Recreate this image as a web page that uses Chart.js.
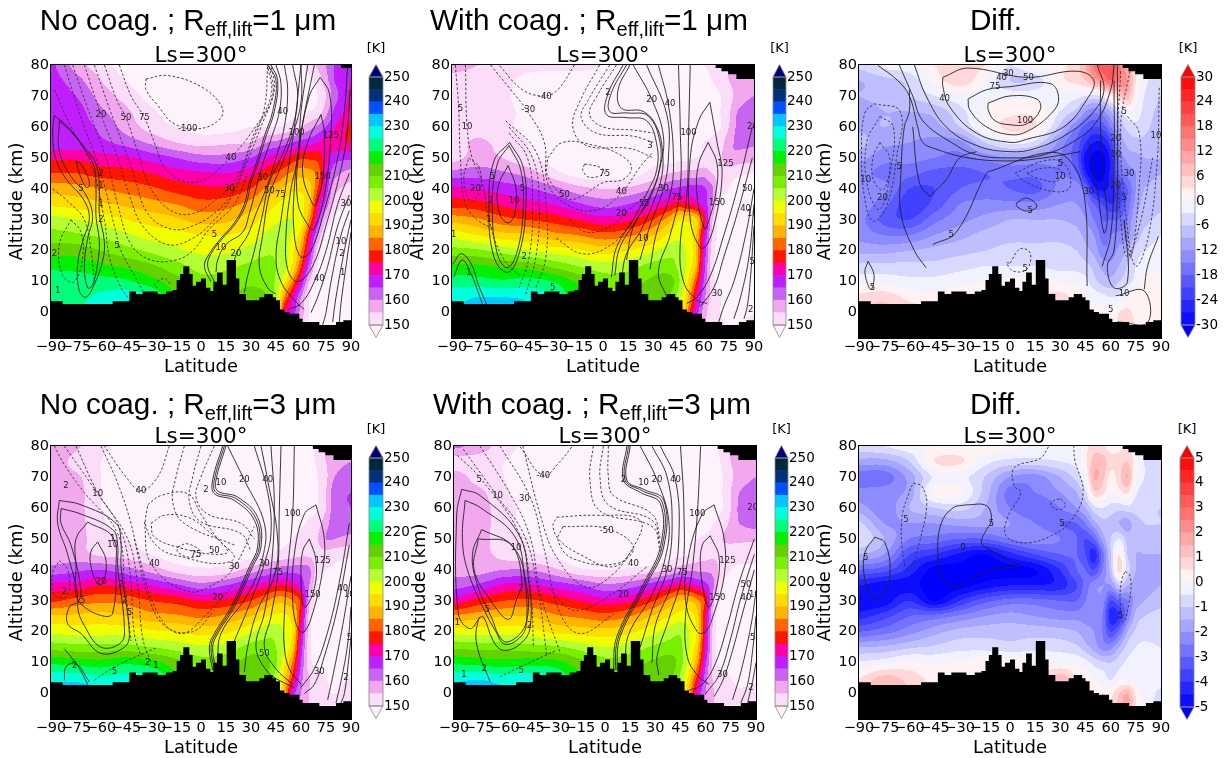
<!DOCTYPE html>
<html>
<head>
<meta charset="utf-8">
<script src="https://cdn.jsdelivr.net/npm/chart.js@4"></script>
<style>
  html, body { margin: 0; padding: 0; background: #fff; width: 1227px; height: 758px; overflow: hidden; }
  canvas { position: absolute; }
  .main { position: absolute; font-family: "Liberation Sans", sans-serif; font-size: 29.7px; color: #000; white-space: nowrap; transform: translateX(-50%); line-height: 34px; }
  .main sub { font-size: 20px; line-height: 0; vertical-align: -6px; }
  .unit { position: absolute; font-family: "DejaVu Sans", sans-serif; font-size: 13px; color: #000; transform: translateX(-50%); }
</style>
</head>
<body>
<script>
// Grid of the filled contours
const lats = [-90, -75, -60, -45, -30, -15, 0, 15, 30, 40, 45, 50, 55, 60, 65, 70, 75, 80, 90];
const alts = [80, 75, 70, 65, 60, 55, 50, 45, 40, 35, 30, 25, 20, 15, 10, 5, 0, -5];
const xTickValues = [-90, -75, -60, -45, -30, -15, 0, 15, 30, 45, 60, 75, 90];
const yTickValues = [0, 10, 20, 30, 40, 50, 60, 70, 80];
const tempTicks = [150, 160, 170, 180, 190, 200, 210, 220, 230, 240, 250];
const diff1Ticks = [-30, -24, -18, -12, -6, 0, 6, 12, 18, 24, 30];
const diff3Ticks = [-5, -4, -3, -2, -1, 0, 1, 2, 3, 4, 5];

// Surface and missing-data steps: lat, altitude
const surface = [-90,3.7, -83,2.8, -53,3.7, -43,6.8, -39,6, -35,6.8, -26,6, -21,6.8, -17,7.3, -14.6,10.5, -12.6,12.5, -10.6,15, -7,12.5, -5,8.7, -3,10, 0,11, 3,8, 5.6,7, 7.4,10, 9.6,13, 13,9, 15.4,17, 21,11, 23,6, 27,4, 35,5, 38,6, 43,5, 45,4, 47.4,1, 50,0.2, 53,-0.4, 59,-2, 61,-3, 71,-4, 81,-3, 85.4,-2.5, 90,-2.5];
const skyMaskSmall = [84,79, 90,79];
const skyMask = [67,79, 70.6,78, 74.6,77, 79.5,75.5, 90,75.5];

// Temperature (K), rows follow alts
const tempNoCoag1 = [
  [166,158,152,148,146,145,145,145,145,146,147,148,148,149,152,156,160,165,168],
  [167,162,155,150,147,145,144,144,144,146,146,147,147,147,149,152,158,165,170],
  [168,165,158,153,148,145,144,144,144,145,146,146,147,147,148,150,155,163,171],
  [168,167,161,156,151,147,146,146,147,147,148,148,148,148,150,152,158,166,172],
  [168,167,164,158,153,150,148,148,150,150,150,151,153,155,158,161,165,170,176],
  [167,167,166,163,159,155,153,154,155,160,161,163,165,167,168,170,172,173,175],
  [174,174,172,171,168,165,162,162,165,170,172,174,177,179,179,178,172,167,166],
  [180,180,178,177,175,172,171,170,173,178,180,183,186,188,187,183,170,162,158],
  [188,187,185,183,181,178,176,176,180,186,188,191,194,194,192,180,168,157,153],
  [194,193,191,189,187,185,182,183,187,192,195,197,198,197,190,174,163,153,150],
  [202,200,198,195,193,191,188,189,193,197,199,200,200,198,185,168,155,149,147],
  [207,206,204,201,198,197,195,195,197,201,202,201,199,192,175,160,149,146,146],
  [213,213,210,207,204,201,199,199,202,204,204,202,196,186,170,153,147,145,145],
  [219,218,216,214,211,207,203,204,206,207,205,202,194,180,163,150,146,145,144],
  [222,223,222,221,217,212,207,207,209,208,204,196,184,170,155,148,146,144,144],
  [224,224,226,228,225,215,210,210,212,210,203,185,172,160,150,147,146,145,145],
  [225,225,227,229,226,216,211,211,213,211,204,175,168,158,150,147,146,145,145],
  [225,226,228,230,226,216,211,211,213,212,205,175,165,155,150,148,146,146,146]
];
const tempCoag1 = [
  [157,155,152,151,151,151,150,149,148,148,148,149,149,150,151,153,155,156,156],
  [153,152,151,149,148,148,148,148,147,147,147,147,147,148,150,152,155,156,157],
  [152,152,151,148,147,146,146,146,146,146,146,147,147,147,148,150,153,157,160],
  [152,152,151,149,147,146,145,145,146,146,146,147,147,147,147,150,154,160,163],
  [152,152,151,149,148,147,146,146,146,146,146,147,147,147,148,150,155,161,164],
  [152,156,153,150,148,147,148,147,147,147,148,149,149,150,151,153,158,161,161],
  [153,157,155,151,148,147,147,146,148,148,149,149,150,151,152,154,159,158,157],
  [162,163,161,158,152,148,147,147,152,155,156,157,157,158,155,153,152,151,150],
  [171,170,168,166,162,157,155,156,160,165,166,167,167,166,161,152,150,148,147],
  [178,177,174,172,170,166,163,165,170,174,177,175,173,168,160,150,148,146,146],
  [188,186,182,180,178,175,172,174,180,188,194,194,192,178,156,148,146,145,145],
  [198,195,192,191,187,185,182,184,190,196,198,197,192,172,155,148,146,145,145],
  [207,206,203,200,198,196,193,195,199,203,203,199,192,170,153,147,145,145,145],
  [216,216,214,213,209,205,202,203,207,207,204,199,190,168,152,147,145,145,145],
  [223,222,221,222,220,214,208,208,211,212,206,196,182,165,152,148,147,146,146],
  [228,230,230,229,225,216,210,210,212,210,203,192,175,162,153,150,148,146,147],
  [230,232,232,231,226,217,211,211,213,212,205,185,170,158,152,150,148,147,150],
  [231,233,233,232,227,218,212,212,214,213,206,180,165,156,152,151,150,151,152]
];
const tempNoCoag3 = [
  [160,156,151,149,147,146,146,146,146,147,147,148,148,149,149,152,156,158,158],
  [159,153,150,147,146,145,145,145,145,146,146,147,147,147,148,151,155,158,160],
  [157,156,150,147,145,145,145,145,145,145,146,146,147,147,147,150,154,160,163],
  [157,157,150,147,145,144,144,145,145,145,146,146,146,147,147,150,155,163,165],
  [157,157,150,147,146,145,145,145,145,145,146,146,146,147,148,150,155,163,165],
  [157,157,151,148,146,145,145,145,145,146,146,147,148,149,151,153,158,163,164],
  [157,157,152,150,147,146,146,146,146,147,148,149,150,152,153,155,160,160,158],
  [157,157,154,153,150,147,147,147,148,150,151,152,153,154,154,153,153,152,151],
  [162,164,165,162,158,153,151,152,157,161,162,163,163,163,161,152,150,149,148],
  [172,172,175,173,170,166,162,165,170,173,175,175,173,168,160,150,148,146,146],
  [179,182,184,183,180,178,175,176,180,185,188,188,185,178,156,148,146,145,145],
  [191,191,192,190,187,186,184,186,190,195,196,196,192,175,153,147,145,145,144],
  [199,198,198,198,196,195,193,194,199,203,203,200,194,172,152,147,145,145,144],
  [208,207,207,207,205,203,201,202,207,207,205,200,191,168,152,147,145,145,144],
  [219,218,217,219,217,212,207,208,212,211,206,196,184,165,152,148,147,146,146],
  [228,228,226,227,226,216,210,210,213,210,203,192,178,162,155,152,150,148,150],
  [232,234,232,230,228,217,211,211,214,212,205,188,168,160,155,153,151,150,152],
  [233,235,233,231,229,218,212,212,215,213,206,185,165,158,155,153,152,152,153]
];
const tempCoag3 = [
  [161,158,152,149,147,146,146,146,146,147,147,148,148,149,149,152,156,157,157],
  [153,152,150,147,146,145,145,145,145,146,146,147,147,147,148,151,155,157,158],
  [157,153,150,147,146,145,145,145,145,145,146,146,146,147,147,150,154,157,160],
  [157,156,151,147,146,145,145,145,145,145,146,146,146,147,147,150,155,160,163],
  [157,157,152,148,146,145,145,145,145,145,146,146,146,147,147,150,155,161,163],
  [157,157,152,148,146,145,145,145,145,146,146,147,147,148,150,153,156,160,162],
  [157,157,152,150,147,146,146,146,146,147,148,149,150,151,153,155,156,156,156],
  [157,157,153,151,149,147,146,146,146,148,149,150,152,153,154,153,152,152,152],
  [158,158,160,160,156,151,150,151,153,156,158,159,159,159,158,152,150,149,149],
  [163,166,171,171,168,165,161,163,168,172,175,173,170,167,160,150,148,146,146],
  [172,177,180,181,178,175,172,174,180,187,190,190,186,178,155,148,146,145,145],
  [186,188,190,190,186,184,182,185,191,195,197,197,192,173,153,147,146,145,145],
  [198,198,198,197,194,193,192,194,199,203,204,200,194,172,152,147,145,145,145],
  [209,208,208,207,206,203,200,202,206,207,206,200,191,170,152,147,145,145,145],
  [219,218,217,218,217,212,207,208,211,212,207,198,186,166,152,148,147,146,146],
  [228,229,227,228,225,216,210,210,213,210,204,193,178,162,154,152,150,148,149],
  [234,236,232,230,227,217,211,211,214,212,205,188,170,160,155,153,152,151,152],
  [235,237,233,231,228,218,212,212,215,213,206,185,165,158,155,153,152,152,153]
];

// Differences (K), rows follow alts
const diff1 = [
  [-5,-2,-1,3,5,3,-3,1,2,5,9,16,20,20,16,9,3,0,-2],
  [-9,-7,-5,1,5,0,-6,-5,2,4,6,10,14,18,15,12,3,-2,-5],
  [-9,-8,-6,-3,-1,-1,-1,-1,-1,-2,-3,-4,-2,2,6,8,1,-3,-6],
  [-10,-9,-9,-8,-4,0,2,2,-3,-7,-12,-14,-13,-9,-4,0,-1,-4,-7],
  [-10,-9,-10,-10,-6,0,4,3,-7,-15,-19,-21,-20,-15,-9,-5,-4,-5,-8],
  [-8,-11,-12,-13,-13,-6,-2,-4,-13,-19,-24,-27,-27,-22,-12,-8,-7,-7,-9],
  [-11,-14,-14,-15,-16,-14,-12,-13,-15,-20,-28,-31,-31,-26,-15,-11,-10,-9,-9],
  [-14,-16,-17,-19,-19,-18,-17,-17,-15,-18,-26,-31,-31,-26,-18,-14,-12,-10,-9],
  [-13,-14,-21,-21,-18,-17,-18,-19,-14,-13,-18,-26,-28,-26,-22,-18,-12,-9,-8],
  [-13,-17,-23,-20,-15,-14,-14,-14,-12,-12,-14,-18,-21,-24,-22,-17,-11,-8,-7],
  [-14,-19,-21,-16,-13,-11,-9,-9,-9,-10,-12,-15,-18,-18,-18,-15,-9,-7,-5],
  [-13,-15,-15,-12,-10,-8,-7,-7,-7,-8,-10,-12,-16,-15,-14,-13,-8,-5,-3],
  [-10,-10,-9,-8,-7,-6,-5,-5,-5,-6,-8,-10,-14,-14,-11,-9,-5,-3,-2],
  [-5,-5,-5,-5,-4,-3,-3,-3,-4,-4,-5,-7,-10,-11,-9,-6,-3,-1,-1],
  [-1,-1,-2,-2,-1,0,1,1,0,-1,-2,-5,-7,-8,-6,-4,-2,1,1],
  [4,5,2,1,2,3,3,3,4,2,0,-1,-2,-3,-2,0,1,2,2],
  [6,7,5,4,3,3,3,3,4,3,1,1,1,1,3,4,2,2,2],
  [6,7,5,4,3,3,3,3,4,3,1,1,1,1,3,5,3,3,3]
];
const diff3 = [
  [-0.7,-0.5,-0.2,0,0.1,0.4,0.2,-0.1,-0.2,-0.2,0.3,0.8,0.6,0.3,0.4,0.5,0.1,-0.5,-0.7],
  [-1.7,-1.7,-1,0.5,0.6,-0.3,-0.7,-0.7,-0.5,-0.3,0.4,1.2,1.3,0.7,0.7,1,0.2,-0.5,-0.7],
  [-2.8,-2.8,-1.8,-0.4,-0.3,-1,-2,-2.2,-1.5,-0.8,0,1.5,1.2,0.3,0.8,1.5,0,-0.5,-0.7],
  [-2.3,-2.2,-1.8,0.2,0.1,-1.2,-2.7,-2.5,-2,-1.5,-0.6,0.8,0.7,0,0.3,0.6,-0.4,-0.7,-0.8],
  [-1.8,-2.3,-1.5,-1,-0.8,-1.5,-2.5,-3,-2.5,-2,-1.5,-0.7,-0.5,-0.7,-0.8,-0.7,-0.8,-0.9,-1],
  [-0.9,-2,-2,-2,-1.8,-1.8,-2,-2.5,-3,-3,-2.5,-1.7,-1.2,-1.2,-1.5,-1.7,-1.2,-1,-1],
  [-0.5,-1.5,-2.5,-2.7,-3,-3,-2.5,-2.2,-2.5,-3,-3.5,-3,-1.8,-1,-0.5,-1.2,-1.3,-1.2,-1.1],
  [-1.5,-2,-3.5,-4,-4.6,-5,-4.2,-3.5,-3,-3,-3.5,-4.3,-2.8,-1,0.5,-1,-1.5,-1.5,-1.5],
  [-3,-3.3,-4.2,-5.2,-5.2,-5.2,-5.2,-5,-4,-3,-3,-3.5,-2.5,-1.2,0.7,-0.7,-1.5,-1.7,-1.6],
  [-4.5,-4.8,-4.8,-5.3,-5.2,-4.8,-4.5,-4.5,-4.3,-3.5,-2.8,-2.2,-2,-2,-1,-1.5,-1.7,-1.7,-1.5],
  [-5,-4.8,-4,-5,-4,-3.2,-2.8,-2.8,-3,-3,-2.5,-2.2,-2.2,-3.5,-3,-2.5,-1.8,-1.5,-1.2],
  [-4.2,-3.7,-3,-2.8,-2.4,-2,-1.8,-2,-2.2,-2.2,-2.2,-2.2,-2.5,-4.3,-4,-2.5,-1.3,-1,-0.8],
  [-3,-2.7,-2.2,-1.7,-1.3,-1.2,-1.2,-1.2,-1.3,-1.5,-1.8,-2,-2.5,-3.5,-2.8,-1.5,-0.9,-0.7,-0.7],
  [-1.5,-1.4,-1.1,-0.9,-0.7,-0.7,-0.8,-0.7,-0.7,-0.9,-1.3,-1.7,-2.2,-2.2,-1.5,-0.8,-0.5,-0.4,-0.5],
  [-0.4,-0.2,0.1,-0.1,0.1,0.3,0.3,0.1,0,-0.1,-0.3,-0.7,-0.9,-1,-0.7,-0.4,-0.3,-0.3,-0.3],
  [0.5,1.2,0.8,0.3,0.2,0.2,0.2,0.3,1.3,0.5,0.3,0,-0.2,-0.6,-0.2,-0.2,-0.2,-0.2,-0.3],
  [1,1.5,1,0.5,0.3,0.3,0.3,0.3,1.3,0.8,0.5,0.2,0.1,0.3,1,1.5,0.4,-0.2,-0.6],
  [1,1.5,1,0.5,0.3,0.3,0.3,0.3,1.3,0.8,0.5,0.3,0.2,0.5,1.2,1.7,0.6,-0.2,-0.6]
];

// Contour lines, each one lat,alt,lat,alt...
const solidNoCoag1 = [
  [-88,63.7,-80,60,-70,53.5,-63,48,-61,40.5,-61,32,-58,23,-59,16.7,-64,9.2,-69,5,-73,7,-74,15.7,-71,23,-67,30.8,-71,37,-80,42.5,-87,49.5,-89,58,-88,63.7],
  [-85,62,-78,58.5,-69,52,-64,47,-63,40,-63,31,-61,23,-62,16,-65,9,-68,8,-70,15,-68,24,-65,31,-69,38,-78,44,-85,52,-85,62],
  [-75,49,-72,48,-68,44,-67,41,-69,40.5,-73,45,-75,49],
  [40,80,45,75,43,65,38,57,33,48,29,42,26,35,20,29,12,24,5,19,2,15,6,10],
  [42,80,46,75,44,65,39,57,34,48,30,42,27,35,21,29,13,24,6,19,4,15,8,10],
  [45,80,48,74,47,65,42,56,37,48,33,40,29,32,25,26,15,22,10,17,9,13],
  [50,80,52,72,50,60,45,50,39,40,33,32,28,25,22,20,20,17],
  [55,80,58,70,55,60,48,50,41,42,37,32,32,20,28,12,26,6.5],
  [60,80,60,68,54,56,47,46,41,38,37,25,35,15,40,8,45,6],
  [60,80,56,60,52,45,48,30,45,18,48,10,56,4,62,1],
  [64,80,60,65,58,50,54,40,51,25,52,14,58,10,67,15,76,30,82,42,87,55,89.5,72],
  [68,80,60,58,56,40,56,25,60,18,66,20,75,35,82,50,86,65,88,80],
  [71.5,76,77,71,78,58,74,38,68,27,65,27.5,58,36,59,53,65,70,71.5,76],
  [72,64,74,58,73,43,69,35,67,35,61,45,64,55,72,64],
  [89,45,82,35,75,20,68,10,60,3,52,1],
  [89,38,82,28,76,15,70,5,66,0],
  [89,33,84,25,78,10,75,0,73,-4],
  [90,30,86,20,81,5,79,-3],
  [90,26,87,15,84,3,83,-3]
];
const dashedNoCoag1 = [
  [-33,75.5,-20,76.6,0,73,12,67,12,63,0,59.5,-16,61,-26,67,-33,72,-33,75.5],
  [-49,80,-42,70,-34,63,-28,55,-22,47,-12,42.7,0,42.5,12,47,30,58,42,70,40,80],
  [-58,80,-50,68,-45,63,-38,52,-30,40,-18,33,-5,32,10,37,22,44,32,58,43,70,41,80],
  [-64,80,-55,66,-48,56,-40,44,-32,32,-18,27,-5,28,10,33,20,40,30,54,38,66,40,80],
  [-70,80,-60,64,-50,50,-43,38,-35,28,-20,22,-5,24,8,30,18,37,27,48,36,60,44,72,42,80],
  [-77,80,-68,66,-57,50,-50,35,-42,22,-30,17,-15,17,-5,20,5,27,20,35,28,45],
  [-82,80,-72,63,-60,45,-52,28,-48,20,-40,12,-35,7],
  [-88,72,-78,60,-66,48,-58,30,-55,18,-48,8,-44,5],
  [-78,30,-72,26,-71,18,-76,10,-83,12,-85,22,-78,30],
  [-89,40,-80,36,-70,30,-66,20,-64,10],
  [-26,8,-28,9,-22,11,-18,9]
];
const labelsNoCoag1 = [[-60,64,"20"],[-45,63,"50"],[-34,63,"75"],[-8,59.5,"-100"],[-72,40,"5"],[-60,45,"2"],[-60,41,"1"],[-60,35,"1"],[-60,30,"2"],[-50.5,21.5,"5"],[18,50,"40"],[17,40,"30"],[8,25,"5"],[12,21,"10"],[21,19,"20"],[37,43.7,"30"],[41,39.5,"50"],[47.6,38,"75"],[49,65,"40"],[57.4,58,"100"],[78,57,"125"],[73,44,"150"],[71,11,"40"],[87,35,"30"],[84,23,"10"],[84.5,19,"2"],[85,13,"1"],[-86,7,"1"],[-88,19,"2"]];

const solidCoag1 = [
  [-55.6,55,-47.6,47,-46,34,-50,19,-57,13,-65,18,-68,34,-65,49,-55.6,55],
  [-56,54,-49,46,-47.5,34,-51,20,-57,14.5,-63,19,-66,34,-63,48,-56,54],
  [-56.6,47.5,-52,40.5,-52.6,32,-56.6,29,-61.6,32,-62.6,40.5,-56.6,47.5],
  [-89.5,15.7,-84.5,19,-78.5,15.7,-74.5,9.3,-69.5,2.8],
  [-89,11.4,-84,17,-79,13,-74,6,-72,3],
  [12,80,3,70.7,2,64,14,63,26,62,32,54.5,32,46,27,39.5,18,30,8,21,5,11.4],
  [14,80,5,71,4,65,15,64.5,27,63.5,34,55,33.5,46,29,39,20,30,10,21,7,12],
  [16,80,9,72,11,66,24,65,32,60,35.5,52,35,44,31,37,23,27,14,19,11,11],
  [18,80,29,69,36,57,34,47,28,37,18,27.6,14,17],
  [26,80,38,64,39,50,36,40,28,28,22,17],
  [33,80,39,67,42,50,40,38,32,26,28,14],
  [45,80,46,60,46,40,40,25,33,13,38,5],
  [52,80,51,58,50,38,46,22,48,10,56,4,62,3],
  [63.7,68,68,55,71,45,67,30,62,22,58,21,52,30,52,50,57,62,63.7,68],
  [62.7,55,68,48,67,38,62,28,60.5,27,56,38,57,48,62.7,55],
  [89,60,80,40,72,25,64,12,56,5,50,3],
  [89,50,80,32,72,18,66,8,58,2],
  [90,40,85,25,78,10,72,2,69,-3],
  [90,35,87,18,82,5,78,-2],
  [90,28,88,12,86,2,84,-2]
];
const dashedCoag1 = [
  [-11,48,-2,47,1,45,-8,43.7,-12,46,-11,48],
  [-33,50,-24,55,-5,54,10,51,17,47,12,43,0,42,-15,37,-22,37,-33,44,-33,50],
  [-17,80,-27,72,-35,70,-48,72,-62,80],
  [-67,80,-55,72,-45,65,-35,55,-33,42,-22,35,-5,33,10,38,22,47,30,52],
  [-88,80,-86,66,-85,50,-82,35,-75,30,-65,27],
  [-82,80,-81,60,-78,50,-72,42,-68,30,-60,18,-50,12],
  [-56,58,-45,50,-42,35,-44,18,-50,8],
  [-56,60,-42,50,-38,35,-40,18,-46,6],
  [-58,62,-40,52,-34,35,-34,18,-40,8],
  [-80,50,-74,47,-73,40,-79,36,-83,43,-80,50],
  [8,80,-4,69.6,-8,64,0,60,18,59,30,58],
  [4,80,-9,68.5,-13,63,-4,58,18,57,30,55],
  [-2,80,-14,68,-18,60,-10,54,16,53,30,50],
  [-20,30,-10,26,5,28,15,33,26,38],
  [-28,24,-12,19,5,22,18,30]
];
const labelsCoag1 = [[-85,66,"5"],[-81,60,"10"],[-76,40,"20"],[-67,36,"2"],[-68,30,"1"],[-89,25,"1"],[-66,44,"5"],[-53,36,"10"],[-48,40,"5"],[-47,18,"2"],[-80,13,"1"],[-34.7,69.6,"-40"],[-44.6,65.5,"-30"],[-23,38,"50"],[11,39,"40"],[1,45,"75"],[11,32,"20"],[24,24,"10"],[23,35,"5"],[29,68.7,"20"],[40,67.5,"40"],[51,58,"100"],[36,40,"30"],[44,37,"75"],[73,48,"125"],[68,35.5,"150"],[86,40,"50"],[85,33.5,"40"],[89,32,"10"],[89,16.5,"5"],[68,6,"30"],[88,1,"2"],[89,60,"20"],[3,71,"2"],[28,54,"3"],[26,35,"5"],[-30,8,"5"]];

const solidDiff1 = [
  [-13,67.7,0,70,16,69,18,65.5,10,61,0,60.7,-9,62,-13,65.5,-13,67.7],
  [-25,69,-14,72,0,73,24,74,29,69,24,64,10,58.5,0,57.5,-14,60,-24,65.5,-25,69],
  [-40,76,-25,79,10,76,40,78,50,75,46,69,32,60,10,56,0,55,-20,58,-36,66.5,-40,73,-40,76],
  [-57,80,-50,70,-38,60,-20,54,0,52,15,53,35,58,50,65,56,72,52,80],
  [-66,80,-58,70,-52,62,-35,55,-20,51,0,50,20,51,40,56,52,62,60,72,62,80],
  [-79,80,-67,75,-60,70,-55,60,-52,55,-45,53,-25,50,0,49,20,50,42,52],
  [-50,14.5,-57,20,-65,32,-65,45,-63,60,-60,65,-60,72],
  [-46,22,-32,26,-14,45,-10,46,20,51.5,34,50,44,38.6,46,8.6],
  [-48,37.5,-38,43,-30,50,-20,52],
  [-48,37.5,-54,42,-58,60],
  [47,55,52,40,56,25.8,58,30,56,42,54,60,54,75],
  [55,15,60,25,62,47,62,75],
  [64,80,64,41,62,20,58,15,62,8,70,10,68,30],
  [63,5.4,80,7,82,-3.2,64,-3],
  [-84.5,16.6,-81,12,-83,7.5,-86.5,13,-84.5,16.6],
  [4,35.5,10,37,16,34.4,10,32.8,4,34.4,4,35.5],
  [88.5,24.7,82,15,80,7.5]
];
const dashedDiff1 = [
  [-81,67.5,-65.5,65,-67.5,50.5,-73.5,34.4,-81.5,29.5,-86.5,36.5,-88.5,52.6,-86.5,64.5,-81,67.5],
  [-77.5,63.4,-69.5,60,-71.5,45,-77.5,33.3,-84.5,39.7,-85.5,54.8,-77.5,63.4],
  [-77.5,55,-71.5,49.4,-75.5,39.7,-81.5,43,-81.5,50.5,-77.5,55],
  [3,45,20,49,32,48.3,36,40.8,28,39,10,42,3,45],
  [10,45,20,46.7,30,46,28,42.4,16,43.5,10,45],
  [0,16,6,20.6,12,19.3,10,14,2,13.4,-2,16,0,16],
  [70,63.4,77,58,77,40.8,72,18,68,30],
  [72,79.5,66,60,70,27,75,15,82,23.6,87.5,47,89,73],
  [66,78,64,55,66,30,70,18,78,30,85,50]
];
const labelsDiff1 = [[-1,77,"30"],[-5,76,"40"],[11,76,"50"],[-9,73,"75"],[9,62,"100"],[-39,69,"40"],[-82,8,"5"],[-66,47,"5"],[-86,43,"10"],[-76,37,"20"],[-35,25,"5"],[12,33,"5"],[9,14,"5"],[30,44,"10"],[30,48,"5"],[47,39,"30"],[63,41,"20"],[63,51,"10"],[63,56,"20"],[68,65,"5"],[71,45,"30"],[68,37,"5"],[87,57,"10"],[68,6,"10"],[60,1,"5"]];

const solidNoCoag3 = [
  [-85,62.4,-72,61,-51,55,-48,48.5,-48,41,-43,19.4,-46,15,-60,13,-72,19.4,-80,22.6,-79,28,-74,30,-80,45,-86,55,-85,62.4],
  [-84,59.8,-72,58,-53,53,-50,48,-50,41,-46,22,-48,16.5,-60,15,-70,22,-74,28,-72,33,-78,48,-84,55,-84,59.8],
  [-68,55.4,-53,50.6,-51,41,-53,26,-58,25,-70,28,-75,32,-75,41,-75,50,-68,55.4],
  [-62,49,-57,43,-59,35.5,-62,35.5,-66,41,-66,46,-62,49],
  [-82,14.5,-74,9,-68,3],
  [-82,4.3,-81,8.6,-75,9.7,-67,3.8],
  [13,80,7,69,8,64.6,20,62.4,32,56,34,47.4,29,41,18,28,8,19.4,5,15,7,7.5],
  [14,80,8,69,9,65,21,63,33,56.5,35,47.4,30,41,19,28,9,19.4,6,15,8,7.5],
  [15,80,9,69,10,65.5,22,63.5,34,57,36,47.4,31,41,20,28,10,19.4,7,15,9,7.5],
  [16,80,26,69,38,55,37,44,28,32,12,19.4,10,9.7],
  [32,80,40,65,42,52,38,42,30,30,20,17],
  [36,80,40,69,46,50,44,38,34,27,28,15,26,7],
  [42,80,44,60,42,40,38,26,33,15,40,7,48,4,56,2],
  [48,80,47,60,46,39,42,25,38,15,45,8,55,3],
  [56,80,55,58,52,40,50,25,50,15,53,8,60,3],
  [69,61,74,50,73,40,67,26,62,20,58,21,55,30,56,45,62,58,69,61],
  [65,50,69,43,68,34,63,28,61,29,60,38,61,46,65,50],
  [89,55,83,36,76,20,68,8,60,2],
  [89,48,82,28,74,12,68,3,62,0],
  [90,38,85,22,80,8,76,-2],
  [90,28,88,16,84,4,81,-3],
  [90,18,88,8,86,0,84,-3]
];
const dashedNoCoag3 = [
  [-88,80,-82,74,-71,65.6,-50,51.7,-46,36.6,-42,17],
  [-82,80,-62,64.6,-49,53.8,-43,41,-40,19.4,-36,12],
  [-75,80,-62,65,-44,50,-38,35,-35,18,-30,10],
  [-60,80,-50,68,-42,55,-38,45,-32,32,-22,22,-5,20,8,27],
  [-19,80,-26,70,-36,65.6,-45,70,-58,80],
  [-32,61,-24,64,-8,64.6,0,58,10,50,20,44,10,42,-10,44,-25,47,-33,54,-32,61],
  [-30,55,-22,57.6,-8,57,4,52.7,16,46,8,45,-12,47,-28,50.6,-30,55],
  [-14,47.4,-8,48.4,0,45.7,-6,44,-14,45.7,-14,47.4],
  [8,80,0,70,-3,63.5,4,58,24,55,32,50],
  [0,80,-5,70,-7,62,0,55.5,24,51.7,30,46],
  [-10,80,-15,70,-17,62,-10,55,20,48],
  [-34,55.5,-30,42,-8,33,10,36,20,41,32,54],
  [-40,50,-26,26,-12,19.4,4,26,20,35.5],
  [-85,43,-80,40,-79,33.4,-82,31,-88,32,-89,39,-85,43],
  [-64,4.3,-52,8.6,-26,15]
];
const labelsNoCoag3 = [[-81,67,"2"],[-62,64.5,"10"],[-36,65.6,"40"],[-28,42,"40"],[-82,33,"2"],[-71,30,"5"],[-53,48,"10"],[-53,50,"1"],[-60,36,"20"],[-48,35,"2"],[-46,30,"2"],[-43,26,"5"],[-76,9,"2"],[-52,7,"5"],[8,46,"50"],[-3,45,"75"],[20,41,"30"],[10,31,"20"],[12,68,"10"],[3,66,"2"],[26,69,"20"],[40,69,"40"],[55,58,"100"],[38,42,"30"],[46,39,"75"],[73,43,"125"],[67,32,"150"],[38,13,"50"],[71,7,"30"],[85,34,"40"],[89,32,"10"],[89,18,"5"],[87,5,"2"],[-32,10,"2"],[-27,9,"1"]];

const solidCoag3 = [
  [-85.4,66,-74.5,64,-51.6,51.6,-45.6,36.6,-44.6,21.5,-50.6,16,-60.6,14,-66.6,17,-72.5,24.8,-75.5,23.7,-76.5,16,-68.5,3.8],
  [-85.4,66,-88.4,58,-87.4,25.8,-80.4,21,-74.5,24.8],
  [-83.4,62.4,-74,60,-53.6,50.6,-48,37,-47,22,-52,17.5,-60,16,-65,20,-72,27,-82,40,-85,50,-83.4,62.4],
  [-73.5,53,-54.6,47.4,-46.6,34.4,-46.6,23.7,-52.6,18.3,-60.6,17,-68,25,-76,35,-79,45,-73.5,53],
  [-75.5,50,-56.6,48.4,-49.6,36.6,-53,30,-57.6,24,-68,30,-78,40,-75.5,50],
  [13,80,11,69,21,65,33,61.4,33,47.4,23,35.5,7,18.3,5,7.5],
  [14,80,12,69,22,65.6,34,62,34,47.4,24,35.5,8,18.3,6,7.5],
  [15,80,13,69,23,66,35,62.5,35,47.4,25,35.5,9,18.3,7,7.5],
  [21,80,31,69,38,56,36,44,28,32,14,19,12,9],
  [28,80,37,70,40,55,37,40,28,27,21,15],
  [33,80,42,69,44,50,40,36,30,22,28,10],
  [45,80,47,60,46,39,38,24,31,12,32,6],
  [57,80,55,58,52,40,48,25,49,12,55,6,62,3],
  [65,61,71,50,71,38,65,26,60,20,55,20,48,30,50,45,58,58,65,61],
  [62.7,51,68,44,66,33,62,28,60,30,57,40,58,48,62.7,51],
  [89,50,80,36,73,22,66,10,58,3,50,1],
  [89,45,81,31,75,18,68,6,60,0],
  [89,40,82,26,75,12,70,4,65,-1],
  [90,33,87,22,81,7,76,-2],
  [90,25,88,14,85,3,81,-3],
  [90,10,88,4,85,-3]
];
const dashedCoag3 = [
  [-88,77,-74,69.4,-51.6,52.2,-44.6,35.5,-42.6,15],
  [-84.5,79,-64.6,64,-48.6,51.7,-40.6,35.5,-34.6,12],
  [-74.5,80,-56.6,64.6,-44.6,50.6,-38.6,32.3,-26.6,13],
  [-62.6,80,-44.6,63.5,-36.6,47.4,-26.6,25.8,-14.6,19.4,5.4,25.8],
  [-19.8,79.7,-26.8,75,-36.8,70.5,-50.6,79.7],
  [-49,80,-38.7,58,-28.8,44,-11,34.4,5,38.7,17,47],
  [-28.8,57,-5,57.6,21,56,17,47.4,5,41,-15,45,-27,49.5,-31,54,-28.8,57],
  [-25,54,1,53.3,17,47.4,7,42,-19,43.6,-28,49.5,-25,54],
  [2,80,2,70,5,64,28,58,33,50],
  [-1,80,-3,70,2,61,28,56,33,48],
  [-7,80,-9,69,-3,59,28,54,33,46],
  [-33,34,-19,27,1,31,25,41],
  [-62.6,5.4,-50.6,8.6,-28.8,14]
];
const labelsCoag3 = [[-75,69,"5"],[-64,64,"10"],[-36.8,70.5,"-40"],[-48,63,"30"],[-53,47,"10"],[-50,34,"2"],[-70,27,"5"],[-88,23,"1"],[-72,8,"2"],[-84,6,"1"],[-45,22,"2"],[1,52.5,"-50"],[17,42,"40"],[11,32,"20"],[-50,7.5,"5"],[11,69,"2"],[23,68,"10"],[31,69,"20"],[42,69,"40"],[55,58,"100"],[37,40,"30"],[46,39,"75"],[73,43,"125"],[67,31,"150"],[84,35,"50"],[84,31,"40"],[89,32,"10"],[88,18,"5"],[70,6,"30"],[87,2,"2"],[88,60,"20"]];

const solidDiff3 = [
  [-80.5,50.6,-74.5,48.7,-71.5,39,-75.5,31.5,-81.5,31,-86.5,37,-86.5,45.5,-80.5,50.6],
  [-26,61,-14,60.7,-11,56,-14,53,-17,48.7,-12,46.5,0,42.7,6,41.4,-10,40,-20,38,-31,34.5,-40,37,-43,45.4,-41,55,-34,60,-26,61]
];
const dashedDiff3 = [
  [-57.6,68,-52.6,67,-49.6,61.5,-53.6,49.7,-59.6,40,-62.6,41,-64.6,56,-59.6,65.8,-57.6,68],
  [23,79.8,18,76,2.6,73,2.6,67,6.6,65,-1.4,57,-2.4,51,8.6,48.7,24.6,51,36.6,56,43.6,65,38.6,75.5,38,80],
  [30,63,33,61,30,59.4,24.6,60.5,25,62,30,63],
  [68.6,39.5,71.6,38,71.6,31.5,67.6,23,65.6,30.4,66.6,36.8,68.6,39.5]
];
const labelsDiff3 = [[-86,44,"5"],[-62,56,"5"],[-11,55,"5"],[-28,47,"0"],[31,55,"5"],[66,25,"5"]];

// Colour bands
const tempColors = ["#fbdcf9","#f2a8ee","#c864f2","#c01eff","#ff00a8","#ff1400","#ff6400","#ffb400","#ffdc00","#f0ff00","#b4ff32","#78f000","#64d200","#00f000","#00ff78","#00ffdc","#00c8ff","#0050ff","#003278","#00283c"];
function bwr(v, range) {
  const f = Math.round(255 * (1 - Math.abs(v) / range));
  return v > 0 ? "rgb(255," + f + "," + f + ")" : "rgb(" + f + "," + f + ",255)";
}
function makeBwr(range) {
  const out = [];
  for (let i = 0; i < 20; i++) out.push(bwr(-range + (i + 0.5) * range / 10, range));
  return out;
}
const tempScale = { min: 150, step: 5, colors: tempColors, under: "#fef3fc", over: "#000080", ticks: tempTicks };
const diff1Scale = { min: -30, step: 3, colors: makeBwr(30), under: "#0000ff", over: "#ff0000", ticks: diff1Ticks };
const diff3Scale = { min: -5, step: 0.5, colors: makeBwr(5), under: "#0000ff", over: "#ff0000", ticks: diff3Ticks };

function bandColor(v, sc) {
  const i = Math.floor((v - sc.min) / sc.step);
  if (i < 0) return sc.under;
  if (i >= sc.colors.length) return sc.over;
  return sc.colors[i];
}

function segIndex(arr, v) {
  // arr can go up or down
  for (let i = 0; i < arr.length - 2; i++) {
    if ((arr[0] < arr[1] && v <= arr[i + 1]) || (arr[0] > arr[1] && v >= arr[i + 1])) return i;
  }
  return arr.length - 2;
}

function spline(a, b, c, d, t) {
  return b + 0.5 * t * (c - a + t * (2 * a - 5 * b + 4 * c - d + t * (3 * (b - c) + d - a)));
}

function gridValue(g, r, tr, c, tc) {
  const vals = [];
  for (let i = -1; i <= 2; i++) {
    const row = g[Math.max(0, Math.min(g.length - 1, r + i))];
    const n = row.length - 1;
    vals.push(spline(row[Math.max(0, c - 1)], row[c], row[c + 1], row[Math.min(n, c + 2)], tc));
  }
  return spline(vals[0], vals[1], vals[2], vals[3], tr);
}

// Filled contours: every pixel gets the band of the grid value at that spot
const contourfPlugin = {
  id: "contourf",
  beforeDatasetsDraw(chart, args, opts) {
    const { ctx, chartArea: a, scales } = chart;
    ctx.save();
    for (let py = Math.floor(a.top); py < a.bottom; py++) {
      const alt = scales.y.getValueForPixel(py + 0.5);
      const r = segIndex(alts, alt);
      const tr = Math.max(0, Math.min(1, (alt - alts[r]) / (alts[r + 1] - alts[r])));
      let runStart = Math.floor(a.left), runColor = null;
      for (let px = Math.floor(a.left); px <= a.right; px++) {
        const lat = scales.x.getValueForPixel(px + 0.5);
        const c = segIndex(lats, lat);
        const tc = Math.max(0, Math.min(1, (lat - lats[c]) / (lats[c + 1] - lats[c])));
        const v = gridValue(opts.grid, r, tr, c, tc);
        const col = px < a.right ? bandColor(v, opts.scale) : null;
        if (col !== runColor) {
          if (runColor) { ctx.fillStyle = runColor; ctx.fillRect(runStart, py, px - runStart, 1); }
          runColor = col; runStart = px;
        }
      }
    }
    ctx.restore();
  }
};

const framePlugin = {
  id: "frameAndLabels",
  afterDatasetsDraw(chart, args, opts) {
    const { ctx, chartArea: a, scales } = chart;
    ctx.save();
    ctx.beginPath();
    ctx.rect(a.left, a.top, a.right - a.left, a.bottom - a.top);
    ctx.clip();
    ctx.font = "8.5px 'DejaVu Sans'";
    ctx.fillStyle = "#222";
    ctx.textAlign = "center";
    ctx.textBaseline = "middle";
    opts.labels.forEach((l) => ctx.fillText(l[2], scales.x.getPixelForValue(l[0]), scales.y.getPixelForValue(l[1])));
    ctx.restore();
    ctx.strokeStyle = "#000";
    ctx.lineWidth = 1;
    ctx.strokeRect(a.left - 0.5, a.top - 0.5, a.right - a.left + 1, a.bottom - a.top + 1);
  }
};

function toPoints(flat) {
  const pts = [];
  for (let i = 0; i < flat.length; i += 2) pts.push({ x: flat[i], y: flat[i + 1] });
  return pts;
}

function drawPanel(p) {
  const titleH = 30, axisH = 40, leftW = 50;
  const canvas = document.createElement("canvas");
  const w = leftW + p.w + 14, h = titleH + p.h + axisH;
  canvas.width = w; canvas.height = h;
  canvas.style.left = p.x - leftW + "px";
  canvas.style.top = p.y - titleH + "px";
  document.body.appendChild(canvas);

  // index 0 is on top, so the ground and the mask come first
  const datasets = [
    { data: toPoints(surface), stepped: true, fill: "start", backgroundColor: "#000", borderColor: "#000", borderWidth: 0, pointRadius: 0 },
    { data: toPoints(p.sky), stepped: true, fill: "end", backgroundColor: "#000", borderColor: "#000", borderWidth: 0, pointRadius: 0 }
  ];
  p.solid.forEach((l) => datasets.push({ data: toPoints(l), borderColor: "#222", borderWidth: 0.9, tension: 0.4, pointRadius: 0, fill: false }));
  p.dashed.forEach((l) => datasets.push({ data: toPoints(l), borderColor: "#333", borderWidth: 0.9, borderDash: [2.5, 2], tension: 0.4, pointRadius: 0, fill: false }));

  new Chart(canvas, {
    type: "line",
    data: { datasets: datasets },
    plugins: [contourfPlugin, framePlugin],
    options: {
      responsive: false,
      animation: false,
      layout: { padding: { right: 14 } },
      plugins: {
        legend: { display: false },
        tooltip: { enabled: false },
        title: { display: true, fullSize: false, text: "Ls=300°", color: "#000", padding: { top: 13, bottom: 0 }, font: { family: "DejaVu Sans", size: 21.5, weight: "normal", lineHeight: "17px" } },
        contourf: { grid: p.grid, scale: p.scale },
        frameAndLabels: { labels: p.labels }
      },
      scales: {
        x: {
          type: "linear", min: -90, max: 90,
          afterBuildTicks: (s) => { s.ticks = xTickValues.map((v) => ({ value: v })); },
          afterFit: (s) => { s.height = axisH; },
          ticks: { autoSkip: false, maxRotation: 0, minRotation: 0, padding: 1, color: "#000", font: { family: "DejaVu Sans", size: 14.5 },
            callback: (v) => (v < 0 ? "\u2212" + -v : "" + v) },
          grid: { display: false, drawTicks: false },
          border: { display: false },
          title: { display: true, text: "Latitude", color: "#000", padding: 0, font: { family: "DejaVu Sans", size: 18 } }
        },
        y: {
          type: "linear", min: -8.2, max: 80,
          afterBuildTicks: (s) => { s.ticks = yTickValues.map((v) => ({ value: v })); },
          afterFit: (s) => { s.width = leftW; },
          ticks: { padding: 2, color: "#000", font: { family: "DejaVu Sans", size: 14.5 } },
          grid: { display: false, drawTicks: false },
          border: { display: false },
          title: { display: true, text: "Altitude (km)", color: "#000", padding: 6, font: { family: "DejaVu Sans", size: 18 } }
        }
      }
    }
  });
}

const triPlugin = {
  id: "cbarEnds",
  afterDatasetsDraw(chart, args, opts) {
    const { ctx, chartArea: a } = chart;
    const mid = (a.left + a.right) / 2, tip = 12.5;
    ctx.save();
    ctx.lineWidth = 0.8;
    ctx.strokeStyle = "#888";
    ctx.beginPath(); ctx.moveTo(a.left, a.top); ctx.lineTo(mid, a.top - tip); ctx.lineTo(a.right, a.top); ctx.closePath();
    ctx.fillStyle = opts.over; ctx.fill(); ctx.stroke();
    ctx.beginPath(); ctx.moveTo(a.left, a.bottom); ctx.lineTo(mid, a.bottom + tip); ctx.lineTo(a.right, a.bottom); ctx.closePath();
    ctx.fillStyle = opts.under; ctx.fill(); ctx.stroke();
    ctx.strokeRect(a.left, a.top, a.right - a.left, a.bottom - a.top);
    ctx.restore();
  }
};

function drawColorbar(b) {
  const sc = b.scale;
  const canvas = document.createElement("canvas");
  const pad = 15, tickW = 32, leftPad = 2;
  canvas.width = leftPad + b.w + tickW; canvas.height = b.h + 2 * pad;
  canvas.style.left = b.x - leftPad + "px";
  canvas.style.top = b.y - pad + "px";
  document.body.appendChild(canvas);
  const datasets = sc.colors.map((c, i) => ({
    data: [[sc.min + i * sc.step, sc.min + (i + 1) * sc.step]],
    backgroundColor: c, borderWidth: 0, barPercentage: 1, categoryPercentage: 1, grouped: false
  }));
  new Chart(canvas, {
    type: "bar",
    data: { labels: ["K"], datasets: datasets },
    plugins: [triPlugin],
    options: {
      responsive: false,
      animation: false,
      layout: { padding: { top: pad, bottom: pad, left: leftPad } },
      plugins: { legend: { display: false }, tooltip: { enabled: false }, cbarEnds: { over: sc.over, under: sc.under } },
      scales: {
        x: { display: false },
        y: {
          position: "right", type: "linear", min: sc.min, max: sc.min + 20 * sc.step,
          afterBuildTicks: (s) => { s.ticks = sc.ticks.map((v) => ({ value: v })); },
          afterFit: (s) => { s.width = tickW; },
          ticks: { padding: 1, color: "#000", font: { family: "DejaVu Sans", size: 13.5 } },
          grid: { display: false, drawTicks: false },
          border: { display: false }
        }
      }
    }
  });
  const u = document.createElement("div");
  u.className = "unit";
  u.textContent = "[K]";
  u.style.left = b.x + b.w / 2 + "px";
  u.style.top = b.y - 37 + "px";
  document.body.appendChild(u);
}

function addTitle(html, cx, top) {
  const d = document.createElement("div");
  d.className = "main";
  d.innerHTML = html;
  d.style.left = cx + "px";
  d.style.top = top + "px";
  document.body.appendChild(d);
}

drawPanel({ x: 51, y: 65, w: 300, h: 273, grid: tempNoCoag1, scale: tempScale, sky: skyMaskSmall, solid: solidNoCoag1, dashed: dashedNoCoag1, labels: labelsNoCoag1 });
drawPanel({ x: 452, y: 65, w: 302, h: 273, grid: tempCoag1, scale: tempScale, sky: skyMask, solid: solidCoag1, dashed: dashedCoag1, labels: labelsCoag1 });
drawPanel({ x: 859, y: 65, w: 302, h: 273, grid: diff1, scale: diff1Scale, sky: skyMask, solid: solidDiff1, dashed: dashedDiff1, labels: labelsDiff1 });
drawPanel({ x: 51, y: 446, w: 300, h: 273, grid: tempNoCoag3, scale: tempScale, sky: skyMask, solid: solidNoCoag3, dashed: dashedNoCoag3, labels: labelsNoCoag3 });
drawPanel({ x: 454, y: 446, w: 302, h: 273, grid: tempCoag3, scale: tempScale, sky: skyMask, solid: solidCoag3, dashed: dashedCoag3, labels: labelsCoag3 });
drawPanel({ x: 859, y: 446, w: 302, h: 273, grid: diff3, scale: diff3Scale, sky: skyMask, solid: solidDiff3, dashed: dashedDiff3, labels: labelsDiff3 });

drawColorbar({ x: 369, y: 77, w: 14, h: 248, scale: tempScale });
drawColorbar({ x: 773, y: 77, w: 13, h: 248, scale: tempScale });
drawColorbar({ x: 1181, y: 77, w: 14, h: 248, scale: diff1Scale });
drawColorbar({ x: 369, y: 458, w: 14, h: 248, scale: tempScale });
drawColorbar({ x: 775, y: 458, w: 13, h: 248, scale: tempScale });
drawColorbar({ x: 1180, y: 458, w: 14, h: 249, scale: diff3Scale });

addTitle("No coag. ; R<sub>eff,lift</sub>=1 μm", 188, 3);
addTitle("With coag. ; R<sub>eff,lift</sub>=1 μm", 589, 3);
addTitle("Diff.", 996, 3);
addTitle("No coag. ; R<sub>eff,lift</sub>=3 μm", 188, 387);
addTitle("With coag. ; R<sub>eff,lift</sub>=3 μm", 592, 387);
addTitle("Diff.", 996, 387);
</script>
</body>
</html>
